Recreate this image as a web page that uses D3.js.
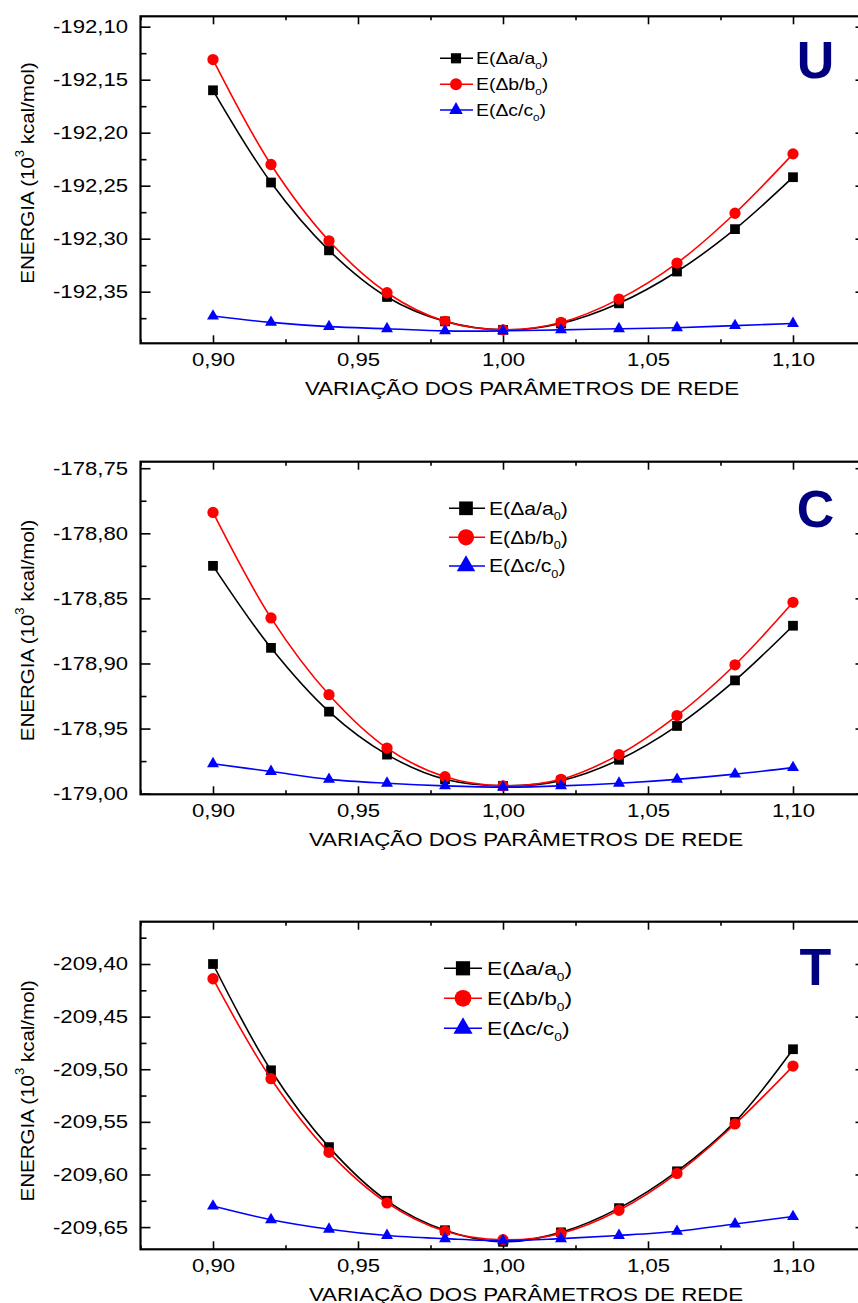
<!DOCTYPE html>
<html>
<head>
<meta charset="utf-8">
<script src="https://cdn.jsdelivr.net/npm/d3@7"></script>
<style>
  html, body { margin: 0; padding: 0; background: #ffffff; }
  svg { display: block; }
  text { font-family: "Liberation Sans", Arial, sans-serif; fill: #000; }
</style>
</head>
<body>
<svg id="chart" width="858" height="1303"></svg>
<script>
// Lattice-parameter variation (ratio to the equilibrium value)
const latticeRatio = [0.90, 0.92, 0.94, 0.96, 0.98, 1.00, 1.02, 1.04, 1.06, 1.08, 1.10];
const xTickValues = [0.90, 0.95, 1.00, 1.05, 1.10];

// Panel U: energy (10^3 kcal/mol)
const uEa = [-192.160, -192.247, -192.311, -192.355, -192.378, -192.386, -192.380, -192.361, -192.331, -192.291, -192.242];
const uEb = [-192.131, -192.230, -192.302, -192.351, -192.378, -192.386, -192.379, -192.357, -192.323, -192.276, -192.220];
const uEc = [-192.373, -192.379, -192.383, -192.385, -192.387, -192.387, -192.386, -192.385, -192.384, -192.382, -192.380];
const uTicks = [-192.10, -192.15, -192.20, -192.25, -192.30, -192.35];

// Panel C
const cEa = [-178.825, -178.888, -178.937, -178.970, -178.989, -178.994, -178.990, -178.974, -178.948, -178.913, -178.871];
const cEb = [-178.784, -178.865, -178.924, -178.965, -178.987, -178.994, -178.989, -178.970, -178.940, -178.901, -178.853];
const cEc = [-178.977, -178.983, -178.989, -178.992, -178.994, -178.995, -178.994, -178.992, -178.989, -178.985, -178.980];
const cTicks = [-178.75, -178.80, -178.85, -178.90, -178.95, -179.00];

// Panel T
const tEa = [-209.400, -209.501, -209.574, -209.625, -209.653, -209.664, -209.655, -209.632, -209.597, -209.550, -209.481];
const tEb = [-209.414, -209.509, -209.579, -209.627, -209.654, -209.662, -209.656, -209.634, -209.599, -209.552, -209.497];
const tEc = [-209.630, -209.643, -209.652, -209.658, -209.661, -209.663, -209.661, -209.658, -209.654, -209.647, -209.640];
const tTicks = [-209.40, -209.45, -209.50, -209.55, -209.60, -209.65];

const seriesNames = ["a", "b", "c"];
const seriesColors = ["#000000", "#ff0000", "#0000ff"];
const seriesSymbols = [d3.symbolSquare, d3.symbolCircle, d3.symbolTriangle];

const xTitle = "VARIAÇÃO DOS PARÂMETROS DE REDE";

const ptBR = d3.formatLocale({ decimal: ",", thousands: ".", grouping: [3], currency: ["R$", ""], minus: "-" });
const fmt2 = ptBR.format(".2f");

// Layout of each panel
const panels = [
  { label: "U", values: [uEa, uEb, uEc], ticks: uTicks, yDomain: [-192.3987, -192.0902],
    top: 16.3, bottom: 343.3, yTitleC: 173, xTitleC: 522, labelBase: 78,
    legend: { x0: 440, xm: 456, x1: 473, xt: 476, rows: [58.3, 84.3, 110], fs: 16.3, ms: 1.0 } },
  { label: "C", values: [cEa, cEb, cEc], ticks: cTicks, yDomain: [-179.0005, -178.745],
    top: 461.7, bottom: 794.3, yTitleC: 630.5, xTitleC: 526, labelBase: 527,
    legend: { x0: 449, xm: 466, x1: 485, xt: 489, rows: [508.3, 537.3, 566], fs: 17.8, ms: 1.35 } },
  { label: "T", values: [tEa, tEb, tEc], ticks: tTicks, yDomain: [-209.6711, -209.3598],
    top: 921.7, bottom: 1249.3, yTitleC: 1090.8, xTitleC: 526, labelBase: 985,
    legend: { x0: 444, xm: 463, x1: 482, xt: 487, rows: [968.3, 998.3, 1028.3], fs: 19.2, ms: 1.4 } }
];

const plotLeft = 140.5, plotRight = 865.5;
const SX = 1.19;           // horizontal widening of the type face
const tickFont = 18.6;

const svg = d3.select("#chart");
svg.append("rect").attr("width", 858).attr("height", 1303).attr("fill", "#ffffff");

const x = d3.scaleLinear().domain([0.875, 1.125]).range([plotLeft, plotRight]);
const xMinor = d3.range(0.875, 1.1251, 0.025).map(v => +v.toFixed(3))
  .filter(v => !xTickValues.some(t => Math.abs(t - v) < 1e-6));

const markerSizes = [95, 100, 62];
const legendMarkerSizes = [121, 133, 95];

function styleAxis(g) {
  g.select(".domain").remove();
  g.selectAll(".tick line").attr("stroke", "#000").attr("stroke-width", 1.6);
}

panels.forEach(p => {
  const y = d3.scaleLinear().domain(p.yDomain).range([p.bottom, p.top]);
  const g = svg.append("g");

  const lo = p.yDomain[0], hi = p.yDomain[1];
  const yMinor = d3.range(Math.ceil(lo / 0.025) * 0.025, hi + 1e-9, 0.025)
    .map(v => +v.toFixed(3))
    .filter(v => v >= lo && v <= hi && !p.ticks.some(t => Math.abs(t - v) < 1e-6));

  // left axis with labels
  const left = g.append("g").attr("transform", `translate(${plotLeft},0)`)
    .call(d3.axisLeft(y).tickValues(p.ticks).tickSize(-10).tickPadding(12).tickFormat(fmt2));
  styleAxis(left);
  left.selectAll(".tick text")
    .attr("font-size", tickFont)
    .attr("font-family", "Liberation Sans, Arial, sans-serif")
    .attr("x", -12.5 / SX)
    .attr("transform", `scale(${SX},1)`);
  const leftMinor = g.append("g").attr("transform", `translate(${plotLeft},0)`)
    .call(d3.axisLeft(y).tickValues(yMinor).tickSize(-6).tickFormat(""));
  styleAxis(leftMinor);

  // right axis (ticks only)
  const right = g.append("g").attr("transform", `translate(${plotRight},0)`)
    .call(d3.axisRight(y).tickValues(p.ticks).tickSize(-10).tickFormat(""));
  styleAxis(right);
  const rightMinor = g.append("g").attr("transform", `translate(${plotRight},0)`)
    .call(d3.axisRight(y).tickValues(yMinor).tickSize(-6).tickFormat(""));
  styleAxis(rightMinor);

  // bottom axis with labels
  const bottom = g.append("g").attr("transform", `translate(0,${p.bottom})`)
    .call(d3.axisBottom(x).tickValues(xTickValues).tickSize(-8).tickPadding(9).tickFormat(fmt2));
  styleAxis(bottom);
  bottom.selectAll(".tick text")
    .attr("font-size", tickFont)
    .attr("font-family", "Liberation Sans, Arial, sans-serif")
    .attr("transform", `scale(${SX},1)`);
  const bottomMinor = g.append("g").attr("transform", `translate(0,${p.bottom})`)
    .call(d3.axisBottom(x).tickValues(xMinor).tickSize(-4).tickFormat(""));
  styleAxis(bottomMinor);

  // top axis (ticks only)
  const topAx = g.append("g").attr("transform", `translate(0,${p.top})`)
    .call(d3.axisTop(x).tickValues(xTickValues).tickSize(-8).tickFormat(""));
  styleAxis(topAx);
  const topMinor = g.append("g").attr("transform", `translate(0,${p.top})`)
    .call(d3.axisTop(x).tickValues(xMinor).tickSize(-4).tickFormat(""));
  styleAxis(topMinor);

  // frame
  g.append("rect")
    .attr("x", plotLeft).attr("y", p.top)
    .attr("width", plotRight - plotLeft).attr("height", p.bottom - p.top)
    .attr("fill", "none").attr("stroke", "#000").attr("stroke-width", 2.2);

  // axis titles
  g.append("text")
    .attr("transform", `translate(${p.xTitleC},${p.bottom + 51.5}) scale(1.2,1)`)
    .attr("text-anchor", "middle")
    .attr("font-size", 18.6)
    .text(xTitle);

  const yt = g.append("text")
    .attr("transform", `translate(27,${p.yTitleC}) rotate(-90) scale(1.08,1)`)
    .attr("text-anchor", "middle")
    .attr("dominant-baseline", "central")
    .attr("font-size", 19);
  yt.append("tspan").text("ENERGIA (10");
  yt.append("tspan").attr("font-size", 12).attr("dy", -7).text("3");
  yt.append("tspan").attr("dy", 7).text(" kcal/mol)");

  // curves and markers
  const line = d3.line()
    .x(d => x(d[0]))
    .y(d => y(d[1]))
    .curve(d3.curveCatmullRom.alpha(0.5));

  p.values.forEach((vals, i) => {
    const pts = latticeRatio.map((r, k) => [r, vals[k]]);
    g.append("path").datum(pts)
      .attr("d", line)
      .attr("fill", "none")
      .attr("stroke", seriesColors[i])
      .attr("stroke-width", 1.6);
    g.selectAll(null).data(pts).enter().append("path")
      .attr("transform", d => `translate(${x(d[0])},${y(d[1])})`)
      .attr("d", d3.symbol().type(seriesSymbols[i]).size(markerSizes[i]))
      .attr("fill", seriesColors[i]);
  });

  // legend
  const L = p.legend;
  seriesNames.forEach((n, i) => {
    const ry = L.rows[i];
    g.append("line")
      .attr("x1", L.x0).attr("x2", L.x1).attr("y1", ry).attr("y2", ry)
      .attr("stroke", seriesColors[i]).attr("stroke-width", 1.6);
    g.append("path")
      .attr("transform", `translate(${L.xm},${ry})`)
      .attr("d", d3.symbol().type(seriesSymbols[i]).size(legendMarkerSizes[i] * L.ms * L.ms * 0.85))
      .attr("fill", seriesColors[i]);
    const t = g.append("text")
      .attr("transform", `translate(${L.xt},${ry + L.fs * 0.36}) scale(${SX},1)`)
      .attr("font-size", L.fs);
    t.append("tspan").text(`E(\u0394${n}/${n}`);
    t.append("tspan").attr("font-size", L.fs * 0.6).attr("dy", L.fs * 0.3).text("0");
    t.append("tspan").attr("dy", -L.fs * 0.3).text(")");
  });

  // panel letter
  g.append("text")
    .attr("x", 815.5).attr("y", p.labelBase)
    .attr("text-anchor", "middle")
    .attr("font-size", 52)
    .attr("font-weight", "bold")
    .attr("fill", "#000080")
    .style("fill", "#000080")
    .text(p.label);
});
</script>
</body>
</html>
